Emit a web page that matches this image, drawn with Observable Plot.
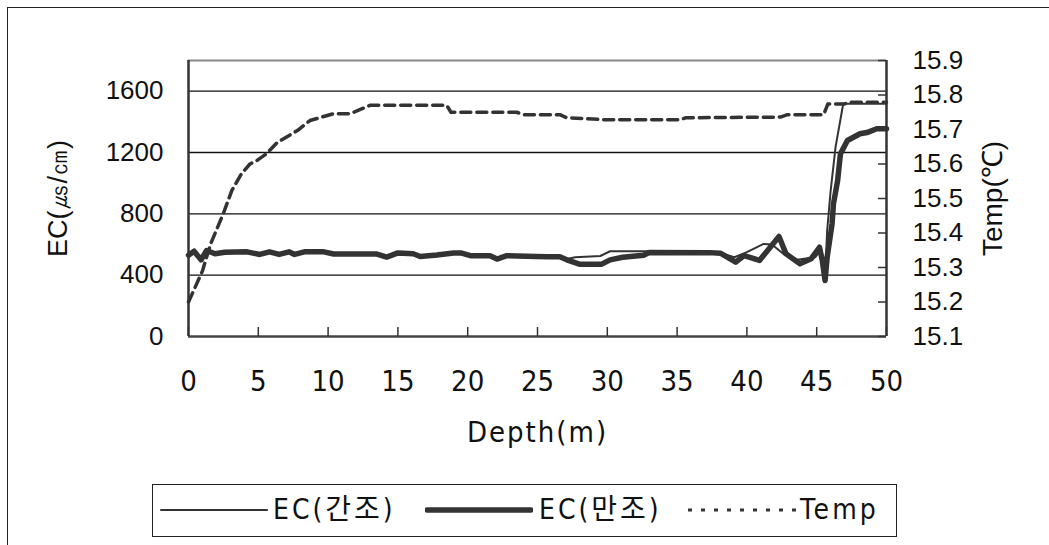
<!DOCTYPE html>
<html>
<head>
<meta charset="utf-8">
<script src="https://cdn.jsdelivr.net/npm/d3@7"></script>
<script src="https://cdn.jsdelivr.net/npm/@observablehq/plot@0.6"></script>
<style>
  html, body { margin: 0; padding: 0; background: #fff; }
  #wrap { position: relative; width: 1049px; height: 545px; overflow: hidden; }
  #border { position: absolute; left: 7px; top: 7px; width: 1060px; height: 560px;
            border-left: 1.5px solid #222; border-top: 1.5px solid #222; box-sizing: border-box; }
  #chart { position: absolute; left: 0; top: 0; }
  #legend { position: absolute; left: 152px; top: 484px; width: 745px; height: 53px;
            border: 1.5px solid #222; box-sizing: border-box; background: #fff;
            font-family: "DejaVu Sans Condensed", "Noto Sans CJK KR", sans-serif;
            font-stretch: condensed;
            font-size: 28px; color: #111; }
  .item { position: absolute; top: 0; height: 50px; line-height: 50px; white-space: nowrap; letter-spacing: 3px; }
  .sw { position: absolute; top: 0; }
</style>
</head>
<body>
<div id="wrap">
  <div id="border"></div>
  <div id="chart"></div>
  <div id="legend"></div>
</div>
<script>
// ---------------- data ----------------
const xTickLabels = [0, 5, 10, 15, 20, 25, 30, 35, 40, 45, 50];
const ecTickLabels = [0, 400, 800, 1200, 1600];
const tempTickLabels = [15.1, 15.2, 15.3, 15.4, 15.5, 15.6, 15.7, 15.8, 15.9];
const seriesNames = ["EC(간조)", "EC(만조)", "Temp"];

// EC at low tide (간조) – thin line
const ebbDepth = [0, 0.4, 0.9, 1.3, 1.9, 2.6, 4.2, 5.1, 5.8, 6.5, 7.2, 7.6, 8.3, 9.7, 10.4, 12.3, 13.5, 14.2, 15.0, 16.1, 16.6, 17.8, 19.0, 19.5, 20.2, 21.6, 22.1, 22.8, 24.9, 25.7, 26.6, 27.1, 27.7, 29.5, 30.2, 35.4, 36.0, 38.1, 39.1, 40.0, 41.2, 41.8, 42.6, 43.6, 44.9, 45.3, 45.4, 45.6, 45.75, 46.0, 46.35, 46.9, 50];
const ebbEC    = [535, 556, 520, 558, 540, 550, 552, 537, 552, 537, 552, 537, 552, 552, 540, 540, 540, 520, 545, 540, 524, 532, 545, 545, 528, 528, 507, 528, 522, 520, 520, 505, 517, 525, 556, 556, 548, 545, 517, 550, 604, 600, 539, 500, 517, 565, 430, 387, 691, 952, 1235, 1518, 1518];

// EC at high tide (만조) – thick line
const floodDepth = [0, 0.4, 0.9, 1.3, 1.9, 2.6, 4.2, 5.1, 5.8, 6.5, 7.2, 7.6, 8.3, 9.7, 10.4, 12.3, 13.5, 14.2, 15.0, 16.1, 16.6, 17.8, 19.0, 19.5, 20.2, 21.6, 22.1, 22.8, 24.9, 25.7, 26.6, 27.1, 28.0, 29.6, 30.2, 31.1, 32.6, 33.0, 37.3, 38.1, 39.2, 39.8, 40.9, 42.3, 42.8, 43.8, 44.6, 45.2, 45.4, 45.6, 45.75, 46.1, 46.2, 46.5, 46.7, 47.2, 48.1, 48.6, 49.3, 50];
const floodEC    = [530, 556, 500, 561, 540, 550, 552, 535, 552, 535, 552, 535, 552, 552, 538, 538, 538, 518, 545, 540, 522, 532, 545, 545, 527, 527, 505, 527, 522, 520, 520, 500, 472, 472, 500, 517, 530, 548, 547, 543, 485, 528, 496, 652, 539, 474, 507, 582, 496, 365, 517, 735, 865, 1017, 1191, 1278, 1322, 1330, 1355, 1355];

// Temperature (℃)
const tempDepth = [0, 1.0, 1.6, 2.5, 3.1, 3.8, 4.4, 4.9, 5.6, 6.35, 7.8, 8.7, 10.4, 11.6, 13.0, 18.5, 18.8, 23.5, 24.0, 26.6, 27.1, 30.0, 35.2, 35.6, 42.4, 42.9, 45.5, 45.8, 47.0, 47.3, 50];
const tempVal   = [15.20, 15.29, 15.37, 15.457, 15.523, 15.572, 15.60, 15.61, 15.63, 15.662, 15.697, 15.726, 15.746, 15.746, 15.77, 15.77, 15.75, 15.75, 15.743, 15.743, 15.734, 15.728, 15.728, 15.734, 15.736, 15.743, 15.743, 15.774, 15.774, 15.779, 15.779];

// ---------------- scales ----------------
const ecDomain = [0, 1800];
const tempDomain = [15.1, 15.9];
const tempToEC = t => (t - tempDomain[0]) / (tempDomain[1] - tempDomain[0]) * (ecDomain[1] - ecDomain[0]) + ecDomain[0];
const ecToTemp = v => (v - ecDomain[0]) / (ecDomain[1] - ecDomain[0]) * (tempDomain[1] - tempDomain[0]) + tempDomain[0];

const ebbRows = ebbDepth.map((d, i) => ({depth: d, ec: ebbEC[i]}));
const floodRows = floodDepth.map((d, i) => ({depth: d, ec: floodEC[i]}));
const tempRows = tempDepth.map((d, i) => ({depth: d, temp: tempVal[i]}));

const ink = "#333";
const sansFont = "'Liberation Sans', Arial, sans-serif";
const narrowFont = "'DejaVu Sans Condensed', 'Noto Sans CJK KR', sans-serif";

const chart = Plot.plot({
  width: 1049,
  height: 460,
  marginLeft: 188,
  marginRight: 163,
  marginTop: 60,
  marginBottom: 124,
  style: {fontFamily: sansFont, fontSize: "26px", color: "#111", background: "transparent", overflow: "visible"},
  x: {domain: [0, 50]},
  y: {domain: ecDomain},
  marks: [
    // gridlines
    Plot.ruleY(ecTickLabels.filter(v => v > 0), {stroke: "#111", strokeWidth: 1.4}),
    Plot.ruleY([ecDomain[1]], {stroke: "#888", strokeWidth: 2}),
    // data
    Plot.line(tempRows, {x: "depth", y: d => tempToEC(d.temp), stroke: ink, strokeWidth: 3.5, strokeDasharray: "10,6"}),
    Plot.line(floodRows, {x: "depth", y: "ec", stroke: ink, strokeWidth: 5.5, strokeLinejoin: "round", strokeLinecap: "round"}),
    Plot.line(ebbRows, {x: "depth", y: "ec", stroke: ink, strokeWidth: 2, strokeLinejoin: "round"}),
    // frame
    Plot.ruleX([0], {stroke: ink, strokeWidth: 2.5}),
    Plot.ruleX([50], {stroke: ink, strokeWidth: 2.5}),
    Plot.ruleY([0], {stroke: "#444", strokeWidth: 2.5}),
    // inward tick marks
    Plot.tickX(xTickLabels, {x: d => d, insetTop: 267, stroke: ink, strokeWidth: 1.5}),
    Plot.tickY(tempTickLabels.map(tempToEC), {y: d => d, insetLeft: 690, stroke: ink, strokeWidth: 1.5}),
    // axes
    Plot.axisX(xTickLabels, {anchor: "bottom", tickSize: 0, tickPadding: 34, label: null, fontFamily: narrowFont, fontSize: 29, tickFormat: d => String(d)}),
    Plot.axisY(ecTickLabels, {anchor: "left", tickSize: 0, tickPadding: 25, label: null, fontSize: 26, tickFormat: d => String(d)}),
    Plot.axisY(tempTickLabels.map(tempToEC), {anchor: "right", tickSize: 0, tickPadding: 26, label: null, fontSize: 26, tickFormat: v => ecToTemp(v).toFixed(1)}),
    // axis titles
    Plot.text(["Depth(m)"], {frameAnchor: "bottom", dy: 96, text: d => d, fontFamily: narrowFont, fontSize: 29, textAnchor: "middle", lineAnchor: "middle", fill: "#111"}),
    Plot.text(["EC(㎲/㎝)"], {frameAnchor: "left", dx: -130, rotate: -90, text: d => d, fontSize: 27, textAnchor: "middle", lineAnchor: "middle", fill: "#111"}),
    Plot.text(["Temp(℃)"], {frameAnchor: "right", dx: 107, rotate: -90, text: d => d, fontSize: 28, textAnchor: "middle", lineAnchor: "middle", fill: "#111"})
  ]
});
document.getElementById("chart").appendChild(chart);
chart.querySelectorAll("[aria-label='x-axis tick label'] text").forEach(t => t.setAttribute("font-stretch", "condensed"));
chart.querySelectorAll("[aria-label='text'] text").forEach(t => { if (t.textContent === "Depth(m)") { t.setAttribute("font-stretch", "condensed"); t.setAttribute("letter-spacing", "2"); } });

// ---------------- legend ----------------
const legend = document.getElementById("legend");
const legendItems = [
  {name: seriesNames[0], sx: 6,   sw: 110, width: 2,   dash: null},
  {name: seriesNames[1], sx: 272, sw: 108, width: 5.5, dash: null},
  {name: seriesNames[2], sx: 533, sw: 112, width: 3,   dash: "4,9"}
];
const textX = [120, 386, 647];
legendItems.forEach((it, i) => {
  const svg = d3.create("svg").attr("class", "sw").attr("width", it.sw).attr("height", 50)
    .style("left", it.sx + "px");
  svg.append("line").attr("x1", 2).attr("x2", it.sw - 2).attr("y1", 25).attr("y2", 25)
    .attr("stroke", ink).attr("stroke-width", it.width)
    .attr("stroke-linecap", it.dash ? "butt" : "round")
    .attr("stroke-dasharray", it.dash);
  legend.appendChild(svg.node());
  const span = document.createElement("span");
  span.className = "item";
  span.style.left = textX[i] + "px";
  span.textContent = it.name;
  legend.appendChild(span);
});
</script>
</body>
</html>
